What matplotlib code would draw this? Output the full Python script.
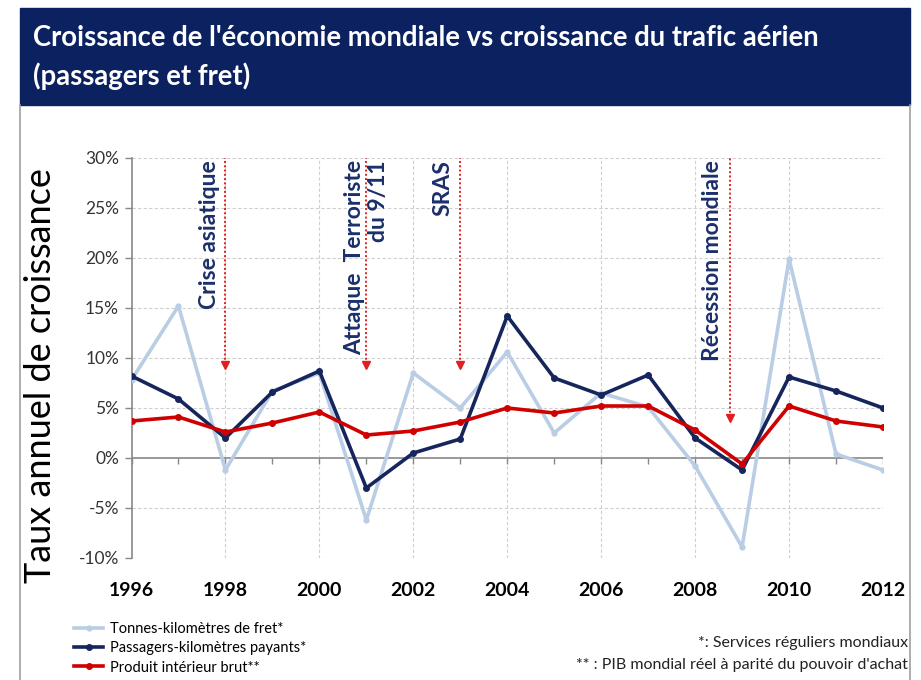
import matplotlib
matplotlib.use('Agg')
import matplotlib.pyplot as plt
from matplotlib.patches import Rectangle
from matplotlib.lines import Line2D

# donnees (taux annuel de croissance en %)
years = list(range(1996, 2013))
fret = [7.8, 15.2, -1.2, 6.7, 8.5, -6.2, 8.5, 5.0, 10.6, 2.5, 6.5, 5.1, -0.8, -8.9, 19.9, 0.4, -1.2]
passagers = [8.2, 5.9, 2.0, 6.6, 8.7, -3.0, 0.5, 1.9, 14.2, 8.0, 6.3, 8.3, 2.0, -1.2, 8.1, 6.7, 5.0]
pib = [3.7, 4.1, 2.6, 3.5, 4.6, 2.3, 2.7, 3.6, 5.0, 4.5, 5.2, 5.2, 2.8, -0.6, 5.2, 3.7, 3.1]

labels = ['Tonnes-kilomètres de fret*', 'Passagers-kilomètres payants*', 'Produit intérieur brut**']
yticks = [-10, -5, 0, 5, 10, 15, 20, 25, 30]
xticks = list(range(1996, 2013, 2))

evt_years = [1998, 2001, 2003, 2008.75]
evt_tips = [8.8, 8.8, 8.8, 3.5]
evt_text_x = [1997.66, 2001.0, 2002.63, 2008.36]
evt_text = ['Crise asiatique', 'Attaque  Terroriste\ndu 9/11', 'SRAS', 'Récession mondiale']

W, H = 921, 680
NAVY = '#0b2160'
FONT = ['Lato', 'DejaVu Sans']
plt.rcParams['font.family'] = FONT

fig = plt.figure(figsize=(W / 100, H / 100), dpi=100)


def fx(px):
    return px / W


def fy(py):
    return 1 - py / H


# bandeau titre + cadre
fig.patches.append(Rectangle((fx(20), fy(105)), fx(910) - fx(20), fy(8) - fy(105),
                             transform=fig.transFigure, color=NAVY, zorder=0))
fig.add_artist(Line2D([fx(20), fx(20)], [fy(105), 0], color='#a0a0a0', lw=1.2))
fig.add_artist(Line2D([fx(910), fx(910)], [fy(105), 0], color='#a0a0a0', lw=1.2))
fig.text(fx(33), fy(38), "Croissance de l'économie mondiale vs croissance du trafic aérien",
         color='white', fontsize=19.8, fontweight='bold', va='center', ha='left')
fig.text(fx(33), fy(76), "(passagers et fret)",
         color='white', fontsize=19.8, fontweight='bold', va='center', ha='left')

ax = fig.add_axes([fx(131.5), fy(558), fx(883) - fx(131.5), fy(158) - fy(558)])

ax.plot(years, fret, color='#b9cde5', lw=2.6, marker='o', ms=3.5, zorder=3, label=labels[0])
ax.plot(years, passagers, color='#16255c', lw=2.6, marker='o', ms=4, zorder=4, label=labels[1])
ax.plot(years, pib, color='#d00000', lw=2.6, marker='o', ms=4, zorder=5, label=labels[2])

ax.set_xlim(1996, 2012)
ax.set_ylim(-10, 30)
ax.set_yticks(yticks)
ax.set_yticklabels([f'{v}%' for v in yticks], fontsize=12.5, color='#333333')
ax.set_xticks(xticks)
ax.set_xticklabels([str(v) for v in xticks], fontsize=14, fontweight='bold', color='black')
ax.tick_params(axis='x', length=0, pad=17)
ax.tick_params(axis='y', length=5, width=1, color='#888888', pad=4)

for s in ['top', 'right', 'bottom']:
    ax.spines[s].set_visible(False)
ax.spines['left'].set_color('#888888')
ax.spines['left'].set_linewidth(1.2)

# grille pointillee
for v in yticks:
    if v != 0:
        ax.axhline(v, color='#cfcfcf', lw=0.8, ls=(0, (3, 2)), zorder=1)
for v in xticks[1:]:
    ax.axvline(v, color='#cfcfcf', lw=0.8, ls=(0, (3, 2)), zorder=1)

# axe horizontal a 0 avec graduations
ax.axhline(0, color='#888888', lw=1.2, zorder=2)
ax.vlines(years, -0.6, 0, color='#888888', lw=1.0, zorder=2)

# evenements
for xa, tip, xt, txt in zip(evt_years, evt_tips, evt_text_x, evt_text):
    ax.vlines(xa, tip + 0.6, 30, color='#e02020', lw=1.4, ls=(0, (1, 1.2)), zorder=6)
    ax.plot([xa], [tip + 0.5], marker='v', ms=6, color='#e02020', zorder=6)
    ax.text(xt, 29.8, txt, rotation=90, ha='center', va='top', multialignment='right',
            fontsize=16.5, fontweight='bold', color='#1b2f6b', linespacing=1.15, zorder=7)

fig.text(fx(41), fy(376), 'Taux annuel de croissance', rotation=90, ha='center', va='center',
         fontsize=26, color='black')

fig.legend(loc='upper left', bbox_to_anchor=(fx(74), fy(622)), frameon=False,
           fontsize=10.5, handlelength=2.0, labelspacing=0.36, handletextpad=0.5,
           borderaxespad=0, borderpad=0)

fig.text(fx(908), fy(643), '*: Services réguliers mondiaux', ha='right', va='center',
         fontsize=11.5, color='#222222')
fig.text(fx(908), fy(665), "** : PIB mondial réel à parité du pouvoir d'achat", ha='right',
         va='center', fontsize=11.5, color='#222222')

fig.savefig('out.png', dpi=100)
